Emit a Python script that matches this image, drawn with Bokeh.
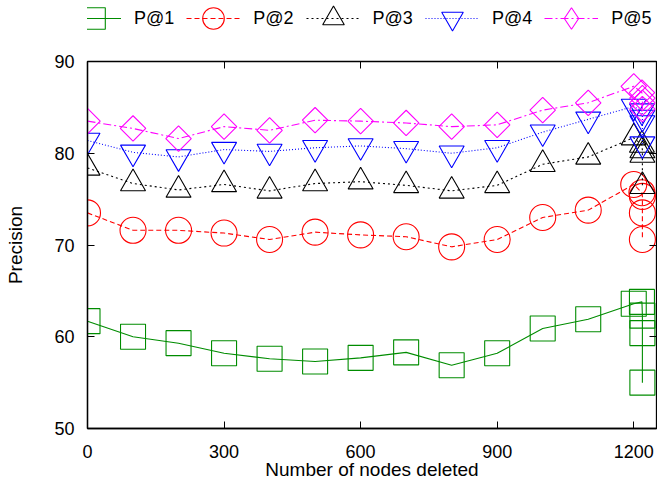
import math
from bokeh.plotting import figure
from bokeh.layouts import column
from bokeh.models import (ColumnDataSource, FixedTicker, LinearAxis, Range1d,
                          Legend, LegendItem)
from bokeh.embed import file_html
from bokeh.resources import INLINE

# ---- data ----
nodes_deleted = [0, 100, 200, 300, 400, 500, 600, 700, 800, 900, 1000, 1100,
                 1200, 1218, 1219, 1219, 1219]
p_at_1 = [61.7, 60.0, 59.3, 58.2, 57.6, 57.3, 57.7, 58.3, 56.9, 58.2, 60.9, 61.9,
          63.6, 63.8, 62.3, 60.4, 55.0]
p_at_2 = [73.5, 71.6, 71.6, 71.3, 70.6, 71.4, 71.1, 70.9, 69.8, 70.6, 73.0, 73.8,
          76.6, 75.7, 75.3, 73.5, 70.6]
p_at_3 = [78.4, 76.7, 76.0, 76.6, 75.9, 76.7, 76.9, 76.5, 75.9, 76.5, 78.8, 79.6,
          81.7, 80.9, 80.3, 79.8, 76.4]
p_at_4 = [81.4, 80.1, 79.6, 80.4, 80.2, 80.6, 80.8, 80.5, 80.0, 80.6, 82.3, 83.7,
          85.1, 84.6, 83.9, 83.3, 81.0]
p_at_5 = [83.5, 82.7, 81.6, 82.9, 82.5, 83.6, 83.5, 83.3, 82.9, 83.1, 84.7, 85.5,
          87.3, 86.6, 86.0, 85.5, 84.8]
series_names = ["P@1", "P@2", "P@3", "P@4", "P@5"]
x_ticks = [0, 300, 600, 900, 1200]
y_ticks = [50, 60, 70, 80, 90]

FONT = "Liberation Sans"
W = 657
LEG_H = 44

# ---------------- main plot ----------------
p = figure(width=W, height=487 - LEG_H, output_backend="svg",
           toolbar_location=None,
           x_range=Range1d(0, 1250), y_range=Range1d(50, 90),
           min_border_left=87, min_border_right=1, min_border_top=61 - LEG_H,
           min_border_bottom=59)
p.grid.visible = False
p.outline_line_color = "black"
p.outline_line_width = 1.3

src = ColumnDataSource(dict(x=nodes_deleted, p1=p_at_1, p2=p_at_2, p3=p_at_3,
                            p4=p_at_4, p5=p_at_5))

# col, color, dash, marker, size, angle, legend marker
styles = [
    ("p1", "#008c00", "solid", "square", 25, 0.0, "square"),
    ("p2", "#ff0000", "5 3", "circle", 26, 0.0, "circle"),
    ("p3", "#000000", "2 3", "triangle", 25, 0.0, "triangle"),
    ("p4", "#0000ff", "1 2", "inverted_triangle", 25, 0.0, "inverted_triangle"),
    ("p5", "#ff00ff", "8 3 2 3", "square", 18, math.pi / 4, "diamond"),
]

for col, color, dash, marker, size, ang, _ in styles:
    p.line("x", col, source=src, line_color=color, line_width=1.1,
           line_dash=dash)
    p.scatter("x", col, source=src, marker=marker, size=size, angle=ang,
              fill_color=None, line_color=color, line_width=1.1)

for ax in (p.xaxis[0], p.yaxis[0]):
    ax.major_tick_in = 7
    ax.major_tick_out = 0
    ax.minor_tick_line_color = None
    ax.axis_line_color = "black"
    ax.axis_line_width = 1.3
    ax.major_label_text_font = FONT
    ax.major_label_text_font_size = "18px"
    ax.major_label_text_color = "black"
    ax.axis_label_text_font = FONT
    ax.axis_label_text_font_size = "19px"
    ax.axis_label_text_font_style = "normal"
    ax.axis_label_text_color = "black"

p.xaxis[0].ticker = FixedTicker(ticks=x_ticks)
p.yaxis[0].ticker = FixedTicker(ticks=y_ticks)
p.xaxis[0].axis_label = "Number of nodes deleted"
p.yaxis[0].axis_label = "Precision"
p.xaxis[0].major_label_standoff = 16
p.xaxis[0].axis_label_standoff = -2
p.yaxis[0].major_label_standoff = 13
p.yaxis[0].axis_label_standoff = 25

# mirrored ticks on top / right, without labels
top = LinearAxis(ticker=FixedTicker(ticks=x_ticks), major_tick_in=7,
                 major_tick_out=0, minor_tick_line_color=None,
                 axis_line_color=None, major_label_standoff=0,
                 major_label_overrides={t: "" for t in x_ticks})
right = LinearAxis(ticker=FixedTicker(ticks=y_ticks), major_tick_in=7,
                   major_tick_out=0, minor_tick_line_color=None,
                   axis_line_color=None, major_label_standoff=0,
                   major_label_overrides={t: "" for t in y_ticks})
p.add_layout(top, "above")
p.add_layout(right, "right")

# ---------------- legend strip ----------------
# The legend's renderers use the same data; it lies outside this strip's
# ranges, so only the legend entries are visible here.
lg = figure(width=W, height=LEG_H, output_backend="svg", toolbar_location=None,
            x_range=Range1d(-2, -1), y_range=Range1d(-2, -1),
            x_axis_location=None, y_axis_location=None,
            min_border_left=0, min_border_right=0, min_border_top=0,
            min_border_bottom=0)
lg.grid.visible = False
lg.outline_line_color = None

items = []
for (col, color, dash, marker, size, ang, lmarker), name in zip(styles, series_names):
    lr = lg.line("x", col, source=src, line_color=color, line_width=1.1,
                 line_dash=dash)
    sr = lg.scatter("x", col, source=src, marker=lmarker, size=size,
                    fill_color=None, line_color=color, line_width=1.1)
    items.append(LegendItem(label=name, renderers=[lr, sr]))

legend = Legend(items=items, orientation="horizontal", location=(-20, -4),
                glyph_width=54, glyph_height=60, label_standoff=13,
                spacing=12, padding=0, margin=0, border_line_color=None,
                background_fill_alpha=0, label_text_font=FONT,
                label_text_font_size="18px", label_text_color="black",
                label_height=20)
lg.add_layout(legend, "center")

open("out.html", "w").write(file_html(column(lg, p, spacing=0), INLINE))
